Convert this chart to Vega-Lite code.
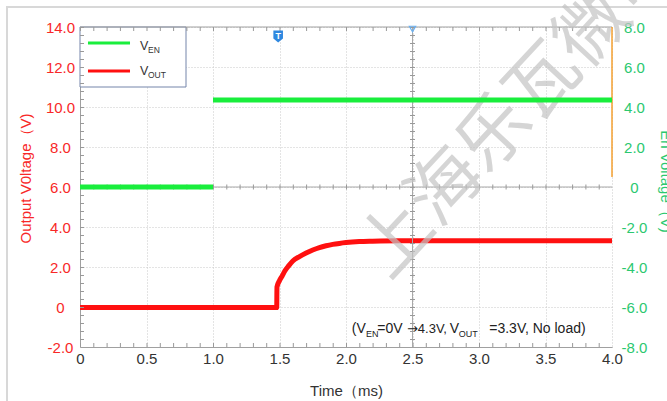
{
  "$schema": "https://vega.github.io/schema/vega-lite/v6.json",
  "width": 532,
  "height": 320,
  "autosize": {"type": "none"},
  "padding": {"left": 80, "top": 27, "right": 55, "bottom": 54},
  "background": "white",
  "config": {"view": {"stroke": null}, "font": "Liberation Sans"},
  "datasets": {
    "vout": [
      {"t": 0.0, "v": -0.03},
      {"t": 0.5, "v": -0.03},
      {"t": 1.0, "v": -0.03},
      {"t": 1.479, "v": -0.03},
      {"t": 1.481, "v": 1.0},
      {"t": 1.5, "v": 1.32},
      {"t": 1.52, "v": 1.55},
      {"t": 1.54, "v": 1.8},
      {"t": 1.57, "v": 2.07},
      {"t": 1.6, "v": 2.3},
      {"t": 1.65, "v": 2.52},
      {"t": 1.7, "v": 2.7},
      {"t": 1.75, "v": 2.85},
      {"t": 1.8, "v": 2.97},
      {"t": 1.85, "v": 3.06},
      {"t": 1.9, "v": 3.13},
      {"t": 1.95, "v": 3.18},
      {"t": 2.0, "v": 3.22},
      {"t": 2.1, "v": 3.27},
      {"t": 2.2, "v": 3.29},
      {"t": 2.4, "v": 3.31},
      {"t": 3.0, "v": 3.31},
      {"t": 4.0, "v": 3.31}
    ],
    "ven": [
      {"t": 0.0, "v": 0.0, "seg": "low"},
      {"t": 1.0, "v": 0.0, "seg": "low"},
      {"t": 1.0, "v": 4.35, "seg": "high"},
      {"t": 4.0, "v": 4.35, "seg": "high"}
    ]
  },
  "layer": [
    {
      "data": {"values": [{"k": 1}]},
      "resolve": {"axis": {"x": "independent", "y": "independent"}},
      "layer": [
        {
          "data": {"name": "vout"},
          "mark": {"type": "line", "color": "#ff1010", "strokeWidth": 5, "interpolate": "monotone"},
          "encoding": {
            "x": {
              "field": "t", "type": "quantitative",
              "scale": {"domain": [0, 4], "nice": false, "zero": false},
              "axis": {
                "orient": "bottom",
                "values": [0, 0.5, 1, 1.5, 2, 2.5, 3, 3.5, 4],
                "labelExpr": "datum.value == 0 ? '0' : format(datum.value, '.1f')",
                "title": "Time（ms)",
                "grid": true, "gridColor": "#c8c8c8", "gridDash": [1, 2],
                "domainColor": "#a0a0a0",
                "ticks": false, "tickSize": 0,
                "labelFlush": false, "labelOverlap": false,
                "labelPadding": 4, "labelFontSize": 15, "labelColor": "#333333", "labelFont": "Liberation Sans",
                "titleFont": "Liberation Sans", "titleFontSize": 15, "titleFontWeight": "normal", "titleColor": "#333333",
                "titleY": 43, "titleBaseline": "middle"
              }
            },
            "y": {
              "field": "v", "type": "quantitative",
              "scale": {"domain": [-2, 14], "nice": false, "zero": false},
              "axis": {
                "orient": "left",
                "values": [-2, 0, 2, 4, 6, 8, 10, 12, 14],
                "labelExpr": "datum.value == 0 ? '0' : (datum.value < 0 ? '-' : '') + format(abs(datum.value), '.1f')",
                "title": "Output V0ltage（V)",
                "grid": true, "gridColor": "#c8c8c8", "gridDash": [1, 2],
                "domainColor": "#a0a0a0",
                "ticks": false, "tickSize": 0,
                "labelFlush": false, "labelOverlap": false,
                "labelAlign": "center", "labelPadding": 20,
                "labelFontSize": 15, "labelColor": "#f82828", "labelFont": "Liberation Sans",
                "titleFont": "Liberation Sans", "titleFontSize": 15, "titleFontWeight": "normal", "titleColor": "#f82828",
                "titleAngle": -90, "titleX": -47, "titleY": 151, "titleBaseline": "bottom", "titleAlign": "center"
              }
            }
          }
        },
        {
          "mark": {"type": "rect", "filled": false, "color": "#d8d8d8", "strokeWidth": 2},
          "encoding": {
            "x": {"datum": -0.549, "type": "quantitative", "axis": null},
            "x2": {"datum": 6},
            "y": {"datum": 15, "type": "quantitative", "axis": null},
            "y2": {"datum": -6}
          }
        },
        {
          "mark": {"type": "rect", "fill": "white", "stroke": "#7585aa", "strokeWidth": 1},
          "encoding": {
            "x": {"datum": 0, "type": "quantitative", "axis": null},
            "x2": {"datum": 0.797},
            "y": {"datum": 14, "type": "quantitative", "axis": null},
            "y2": {"datum": 11.0}
          }
        },
        {
          "mark": {"type": "rule", "color": "#a0a0a0", "strokeWidth": 1},
          "encoding": {
            "x": {"datum": 0, "type": "quantitative", "axis": null},
            "x2": {"datum": 4},
            "y": {"datum": 14, "type": "quantitative", "axis": null}
          }
        },
        {
          "mark": {"type": "rule", "color": "#999999", "strokeWidth": 4, "strokeDash": [1, 12.3]},
          "encoding": {
            "x": {"datum": 0, "type": "quantitative", "axis": null},
            "x2": {"datum": 4},
            "y": {"datum": 13.9, "type": "quantitative", "axis": null}
          }
        },
        {
          "mark": {"type": "rule", "color": "#999999", "strokeWidth": 4, "strokeDash": [1, 12.3]},
          "encoding": {
            "x": {"datum": 0, "type": "quantitative", "axis": null},
            "x2": {"datum": 4},
            "y": {"datum": -1.9, "type": "quantitative", "axis": null}
          }
        },
        {
          "mark": {"type": "rule", "color": "#999999", "strokeWidth": 4, "strokeDash": [1, 7]},
          "encoding": {
            "x": {"datum": 0.015, "type": "quantitative", "axis": null},
            "y": {"datum": 14, "type": "quantitative", "axis": null},
            "y2": {"datum": -2}
          }
        },
        {
          "mark": {"type": "rule", "color": "#a8a8a8", "strokeWidth": 1},
          "encoding": {
            "x": {"datum": 2.5, "type": "quantitative", "axis": null},
            "y": {"datum": 14, "type": "quantitative", "axis": null},
            "y2": {"datum": -2}
          }
        },
        {
          "mark": {"type": "rule", "color": "#999999", "strokeWidth": 5, "strokeDash": [1, 7]},
          "encoding": {
            "x": {"datum": 2.5, "type": "quantitative", "axis": null},
            "y": {"datum": 14, "type": "quantitative", "axis": null},
            "y2": {"datum": -2}
          }
        },
        {
          "mark": {"type": "rule", "color": "#a8a8a8", "strokeWidth": 1},
          "encoding": {
            "x": {"datum": 0, "type": "quantitative", "axis": null},
            "x2": {"datum": 4},
            "y": {"datum": 6, "type": "quantitative", "axis": null}
          }
        },
        {
          "mark": {"type": "rule", "color": "#999999", "strokeWidth": 5, "strokeDash": [1, 12.3]},
          "encoding": {
            "x": {"datum": 0, "type": "quantitative", "axis": null},
            "x2": {"datum": 4},
            "y": {"datum": 6, "type": "quantitative", "axis": null}
          }
        },
        {
          "mark": {"type": "rule", "color": "#f5a030", "strokeWidth": 1.5},
          "encoding": {
            "x": {"datum": 4, "type": "quantitative", "axis": null},
            "y": {"datum": 14, "type": "quantitative", "axis": null},
            "y2": {"datum": 6.5}
          }
        },
        {
          "mark": {"type": "point", "shape": "M-0.8,-1 L0.8,-1 L0.8,0.35 L0,1 L-0.8,0.35 Z", "size": 144, "filled": true, "color": "#2f88e0", "opacity": 1},
          "encoding": {
            "x": {"datum": 1.49, "type": "quantitative", "axis": null},
            "y": {"datum": 13.525, "type": "quantitative", "axis": null}
          }
        },
        {
          "mark": {"type": "text", "text": "T", "color": "white", "fontSize": 9, "fontWeight": "bold", "baseline": "middle", "align": "center", "dy": -1},
          "encoding": {
            "x": {"datum": 1.49, "type": "quantitative", "axis": null},
            "y": {"datum": 13.525, "type": "quantitative", "axis": null}
          }
        },
        {
          "mark": {"type": "point", "shape": "triangle-down", "size": 40, "filled": false, "color": "#6ab0f0", "strokeWidth": 1.2, "opacity": 1},
          "encoding": {
            "x": {"datum": 2.5, "type": "quantitative", "axis": null},
            "y": {"datum": 13.9, "type": "quantitative", "axis": null}
          }
        },
        {
          "mark": {"type": "rule", "color": "#19ee3c", "strokeWidth": 3},
          "encoding": {
            "x": {"datum": 0.06, "type": "quantitative", "axis": null},
            "x2": {"datum": 0.376},
            "y": {"datum": 13.2, "type": "quantitative", "axis": null}
          }
        },
        {
          "mark": {"type": "rule", "color": "#ff1010", "strokeWidth": 3},
          "encoding": {
            "x": {"datum": 0.06, "type": "quantitative", "axis": null},
            "x2": {"datum": 0.376},
            "y": {"datum": 11.8, "type": "quantitative", "axis": null}
          }
        },
        {
          "mark": {"type": "text", "text": "V", "color": "#333333", "fontSize": 12.5, "align": "left", "baseline": "alphabetic"},
          "encoding": {
            "x": {"datum": 0.451, "type": "quantitative", "axis": null},
            "y": {"datum": 12.85, "type": "quantitative", "axis": null}
          }
        },
        {
          "mark": {"type": "text", "text": "EN", "color": "#333333", "fontSize": 8.5, "align": "left", "baseline": "alphabetic"},
          "encoding": {
            "x": {"datum": 0.511, "type": "quantitative", "axis": null},
            "y": {"datum": 12.7, "type": "quantitative", "axis": null}
          }
        },
        {
          "mark": {"type": "text", "text": "V", "color": "#333333", "fontSize": 12.5, "align": "left", "baseline": "alphabetic"},
          "encoding": {
            "x": {"datum": 0.451, "type": "quantitative", "axis": null},
            "y": {"datum": 11.6, "type": "quantitative", "axis": null}
          }
        },
        {
          "mark": {"type": "text", "text": "OUT", "color": "#333333", "fontSize": 8.5, "align": "left", "baseline": "alphabetic"},
          "encoding": {
            "x": {"datum": 0.511, "type": "quantitative", "axis": null},
            "y": {"datum": 11.45, "type": "quantitative", "axis": null}
          }
        },
        {
          "mark": {"type": "text", "text": "(V", "color": "#222222", "fontSize": 14, "align": "left", "baseline": "alphabetic"},
          "encoding": {
            "x": {"datum": 2.043, "type": "quantitative", "axis": null},
            "y": {"datum": -1.3, "type": "quantitative", "axis": null}
          }
        },
        {
          "mark": {"type": "text", "text": "EN", "color": "#222222", "fontSize": 9, "align": "left", "baseline": "alphabetic"},
          "encoding": {
            "x": {"datum": 2.15, "type": "quantitative", "axis": null},
            "y": {"datum": -1.5, "type": "quantitative", "axis": null}
          }
        },
        {
          "mark": {"type": "text", "text": "=0V", "color": "#222222", "fontSize": 14, "align": "left", "baseline": "alphabetic"},
          "encoding": {
            "x": {"datum": 2.235, "type": "quantitative", "axis": null},
            "y": {"datum": -1.3, "type": "quantitative", "axis": null}
          }
        },
        {
          "mark": {"type": "text", "text": "→", "font": "DejaVu Sans", "color": "#222222", "fontSize": 13, "align": "center", "baseline": "alphabetic"},
          "encoding": {
            "x": {"datum": 2.5, "type": "quantitative", "axis": null},
            "y": {"datum": -1.3, "type": "quantitative", "axis": null}
          }
        },
        {
          "mark": {"type": "text", "text": "4.3V,", "color": "#222222", "fontSize": 13, "align": "left", "baseline": "alphabetic"},
          "encoding": {
            "x": {"datum": 2.54, "type": "quantitative", "axis": null},
            "y": {"datum": -1.3, "type": "quantitative", "axis": null}
          }
        },
        {
          "mark": {"type": "text", "text": "V", "color": "#222222", "fontSize": 14, "align": "left", "baseline": "alphabetic"},
          "encoding": {
            "x": {"datum": 2.78, "type": "quantitative", "axis": null},
            "y": {"datum": -1.3, "type": "quantitative", "axis": null}
          }
        },
        {
          "mark": {"type": "text", "text": "OUT", "color": "#222222", "fontSize": 9, "align": "left", "baseline": "alphabetic"},
          "encoding": {
            "x": {"datum": 2.848, "type": "quantitative", "axis": null},
            "y": {"datum": -1.5, "type": "quantitative", "axis": null}
          }
        },
        {
          "mark": {"type": "text", "text": "=3.3V, No load)", "color": "#222222", "fontSize": 14, "align": "left", "baseline": "alphabetic"},
          "encoding": {
            "x": {"datum": 3.077, "type": "quantitative", "axis": null},
            "y": {"datum": -1.3, "type": "quantitative", "axis": null}
          }
        },
        {
          "mark": {"type": "text", "text": "上海乐瓦微电子", "font": "Noto Sans CJK SC", "fontSize": 72, "angle": -47, "align": "left", "baseline": "middle", "color": "#c4c4c4", "opacity": 0.7},
          "encoding": {
            "x": {"datum": 2.2, "type": "quantitative", "axis": null},
            "y": {"datum": 2.035, "type": "quantitative", "axis": null}
          }
        }
      ]
    },
    {
      "data": {"name": "ven"},
      "mark": {"type": "line", "color": "#19ee3c", "strokeWidth": 5},
      "encoding": {
        "x": {"field": "t", "type": "quantitative", "axis": null},
        "y": {
          "field": "v", "type": "quantitative",
          "scale": {"domain": [-8, 8], "nice": false, "zero": false},
          "axis": {
            "orient": "right",
            "values": [-8, -6, -4, -2, 0, 2, 4, 6, 8],
            "labelExpr": "datum.value == 0 ? '0' : (datum.value < 0 ? '-' : '') + format(abs(datum.value), '.1f')",
            "title": "En Voltage（V)",
            "grid": false, "domain": false,
            "ticks": false, "tickSize": 0,
            "labelFlush": false, "labelOverlap": false,
            "labelAlign": "center", "labelPadding": 22,
            "labelFontSize": 15, "labelColor": "#2bc870", "labelFont": "Liberation Sans",
            "titleFont": "Liberation Sans", "titleFontSize": 15, "titleFontWeight": "normal", "titleColor": "#2bc870",
            "titleAngle": 90, "titleX": 45, "titleY": 154, "titleBaseline": "bottom", "titleAlign": "center"
          }
        },
        "detail": {"field": "seg"}
      }
    }
  ],
  "resolve": {"scale": {"y": "independent"}, "axis": {"x": "independent", "y": "independent"}}
}
